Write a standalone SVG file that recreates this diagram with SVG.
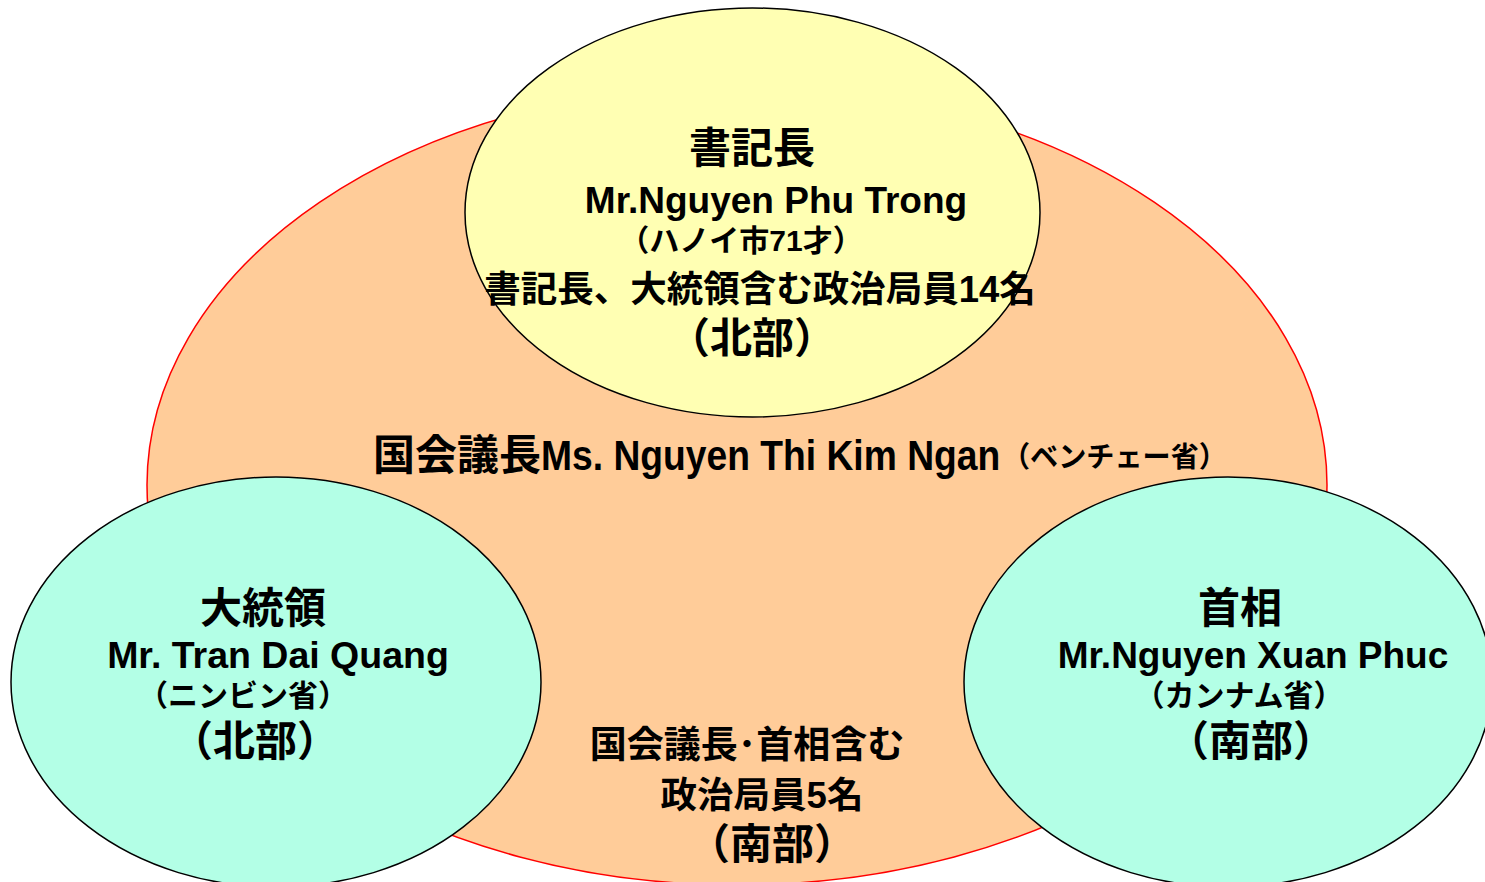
<svg xmlns="http://www.w3.org/2000/svg" width="1485" height="882" viewBox="0 0 1485 882">
<style>
text{font-family:"Liberation Sans","Noto Sans CJK JP",sans-serif;font-weight:bold;fill:#000}
.c{text-anchor:middle}
.big{font-size:42px}
.name{font-size:37px}
.sm{font-size:30px}
</style>
<rect width="1485" height="882" fill="#fff"/>
<g id="assembly">
<ellipse cx="737" cy="485" rx="590" ry="400" fill="#FFCC99" stroke="#FF0000" stroke-width="1.5"/>
<text x="373" y="470" font-size="42">国会議長</text>
<text transform="translate(541,470) scale(0.866,1)" font-size="43">Ms. Nguyen Thi Kim Ngan</text>
<text transform="translate(1002,467) scale(0.97,1)" font-size="29">（ベンチェー省）</text>
<text class="c" x="747" y="758" font-size="37">国会議長･首相含む</text>
<text class="c" x="762" y="808" font-size="36.5">政治局員5名</text>
<text class="c big" x="772" y="859">（南部）</text>
</g>
<g id="secretary">
<ellipse cx="752.5" cy="212.5" rx="287.5" ry="204.5" fill="#FFFFB3" stroke="#000" stroke-width="1.5"/>
<text class="c big" x="752" y="163">書記長</text>
<text class="c name" x="776" y="213">Mr.Nguyen Phu Trong</text>
<text class="c sm" x="741" y="251">（ハノイ市71才）</text>
<text class="c" x="760" y="302" font-size="36.5">書記長、大統領含む政治局員14名</text>
<text class="c big" x="752" y="353">（北部）</text>
</g>
<g id="president">
<ellipse cx="276" cy="682" rx="265" ry="205" fill="#B3FFE6" stroke="#000" stroke-width="1.5"/>
<text class="c big" x="263" y="623">大統領</text>
<text class="c" x="278" y="668" font-size="37.5">Mr. Tran Dai Quang</text>
<text class="c sm" x="243" y="706">（ニンビン省）</text>
<text class="c big" x="255" y="756">（北部）</text>
</g>
<g id="primeminister">
<ellipse cx="1228" cy="682" rx="264" ry="205" fill="#B3FFE6" stroke="#000" stroke-width="1.5"/>
<text class="c big" x="1240" y="623">首相</text>
<text class="c name" x="1253" y="668">Mr.Nguyen Xuan Phuc</text>
<text class="c sm" x="1239" y="706">（カンナム省）</text>
<text class="c big" x="1251" y="756">（南部）</text>
</g>
<g id="connectors"></g>
</svg>
